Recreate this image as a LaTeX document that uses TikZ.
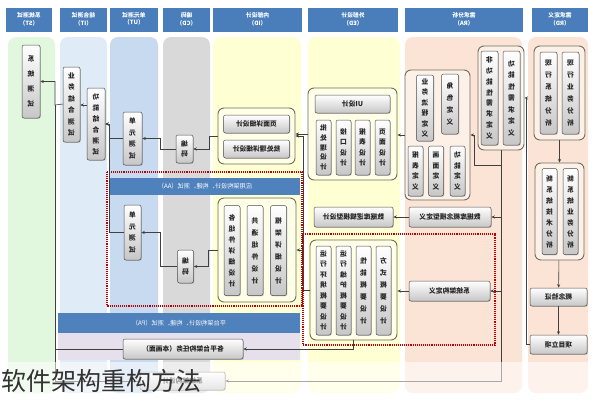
\documentclass[tikz,border=0pt]{standalone}
\usepackage{fontspec}
\setmainfont{Noto Sans CJK SC}
\usepackage{graphicx}
\usetikzlibrary{arrows.meta,shadows}
\definecolor{hdrblue}{HTML}{4A7EBB}
\definecolor{bandblue}{HTML}{4F81BD}
\definecolor{bandlav}{HTML}{E6E0EC}
\definecolor{laneST}{HTML}{E2F8DE}
\definecolor{laneIT}{HTML}{DFEBF6}
\definecolor{laneUT}{HTML}{C8DAF0}
\definecolor{laneCD}{HTML}{D9D9D9}
\definecolor{laneID}{HTML}{FFFFD4}
\definecolor{laneRA}{HTML}{FBE4D5}
\definecolor{grpline}{HTML}{6E6E5E}
\makeatletter
\newcommand\vtxt[2][10]{\reflectbox{\vbox{\baselineskip=#1pt\lineskiplimit=-20pt\@tfor\vt@c:=#2\do{\hbox to 7pt{\hss\vt@c\hss}}}}}
\makeatother
\newcommand\mtxt[1]{\reflectbox{#1}}
\newcommand\htxt[2]{\reflectbox{\begin{tabular}{@{}c@{}}#1\\#2\end{tabular}}}
\tikzset{%
  lane/.style={rounded corners=8pt},
  hdr/.style={fill=hdrblue, text=white, inner sep=0, font=\bfseries\fontsize{5.8}{6.8}\selectfont},
  band/.style={fill=bandblue, text=white, inner sep=0, font=\fontsize{6.2}{7}\selectfont},
  grp/.style={draw=grpline, line width=0.9pt, rounded corners=6pt, fill=white, fill opacity=0.45, inner sep=0},
  cell/.style={draw=black!70, line width=0.5pt, rounded corners=2pt, top color=white, bottom color=black!22,
    drop shadow={shadow xshift=0.8pt, shadow yshift=-0.8pt, opacity=0.35},
    inner sep=0, text=black!85, font=\bfseries\fontsize{6.8}{7.5}\selectfont},
  reddot/.style={draw=red!75!black, densely dotted, line width=1.1pt},
  link/.style={draw=black!75, line width=0.6pt},
  flow/.style={link, -{Stealth[length=3.5pt,width=3pt]}}
}
\begin{document}
\begin{tikzpicture}[x=1pt, y=-1pt]
  \useasboundingbox (0,0) rectangle (592,400);
  \fill[white] (0,0) rectangle (592,400);
  \fill[lane, laneST] (8,37) rectangle (55,393);
  \fill[lane, laneIT] (60,37) rectangle (107,393);
  \fill[lane, laneUT] (110,37) rectangle (158,393);
  \fill[lane, laneCD] (163,37) rectangle (210,393);
  \fill[lane, laneID] (213,37) rectangle (301,393);
  \fill[lane, laneID] (308,37) rectangle (400,393);
  \fill[lane, laneRA] (405,37) rectangle (522,393);
  \fill[lane, laneRA] (528,37) rectangle (588,393);

  \node[hdr, minimum width=46pt, minimum height=24pt] (hST) at (29,20) {\htxt{系统测试}{（ST）}};
  \node[hdr, minimum width=47pt, minimum height=24pt] (hIT) at (83.5,20) {\htxt{结合测试}{（IT）}};
  \node[hdr, minimum width=48pt, minimum height=24pt] (hUT) at (134,20) {\htxt{单元测试}{（UT）}};
  \node[hdr, minimum width=47pt, minimum height=24pt] (hCD) at (186.5,20) {\htxt{编码}{（CD）}};
  \node[hdr, minimum width=89pt, minimum height=24pt] (hID) at (257.5,20) {\htxt{内部设计}{（ID）}};
  \node[hdr, minimum width=90pt, minimum height=24pt] (hED) at (353,20) {\htxt{外部设计}{（ED）}};
  \node[hdr, minimum width=118pt, minimum height=24pt] (hRA) at (464,20) {\htxt{需求分析}{（RA）}};
  \node[hdr, minimum width=56pt, minimum height=24pt] (hRD) at (560,20) {\htxt{需求定义}{（RD）}};

  \node[band, minimum width=190pt, minimum height=17pt] (bAA) at (205,186.5) {\mtxt{应用架构设计、构建、测试（AA）}};
  \node[band, minimum width=242pt, minimum height=20pt] (bPA) at (179,323) {\mtxt{平台架构设计、构建、测试（PA）}};
  \fill[bandlav] (58,333) rectangle (300,360);
  \draw[reddot] (107,172) rectangle (302,306);
  \draw[reddot] (303,234) rectangle (495,345);

  \node[grp, minimum width=51pt, minimum height=94pt] (rdTop) at (559.5,93) {};
  \node[grp, minimum width=49pt, minimum height=97pt] (rdMid) at (559.5,211.5) {};
  \node[grp, minimum width=46pt, minimum height=104pt] (raReq) at (501,98) {};
  \node[grp, minimum width=65pt, minimum height=130pt] (raDef) at (437.5,135) {};
  \node[grp, minimum width=89pt, minimum height=92pt] (edTop) at (352.5,134) {};
  \node[grp, minimum width=87pt, minimum height=100pt] (edLow) at (353.5,290) {};
  \node[grp, minimum width=77pt, minimum height=56pt] (idTop) at (256.5,136) {};
  \node[grp, minimum width=78pt, minimum height=104pt] (idLow) at (257,250) {};

  \node[cell, minimum width=17pt, minimum height=82pt] (rdA) at (548.5,93) {\vtxt[12]{现行系统分析}};
  \node[cell, minimum width=17pt, minimum height=82pt] (rdB) at (570.5,93) {\vtxt[12]{现行业务分析}};
  \node[cell, minimum width=15pt, minimum height=86pt] (rdC) at (549.5,211.5) {\vtxt[11]{新系统技术分析}};
  \node[cell, minimum width=15pt, minimum height=86pt] (rdD) at (570.5,211.5) {\vtxt[11]{新系统业务分析}};
  \node[cell, minimum width=57pt, minimum height=18pt] (rdPoc) at (558.5,297) {\mtxt{概念验证}};
  \node[cell, minimum width=57pt, minimum height=19pt] (rdProj) at (558.5,344.5) {\mtxt{项目立项}};

  \node[cell, minimum width=17pt, minimum height=94pt] (raE) at (489.5,98) {\vtxt[10.8]{非功能性需求定义}};
  \node[cell, minimum width=17pt, minimum height=94pt] (raF) at (511.5,98) {\vtxt[11.5]{功能性需求定义}};
  \node[cell, minimum width=17pt, minimum height=66pt] (raG) at (425,108) {\vtxt[10.5]{业务流程定义}};
  \node[cell, minimum width=17pt, minimum height=60pt] (raH) at (450,104) {\vtxt[12]{角色定义}};
  \node[cell, minimum width=15pt, minimum height=50pt] (raI) at (415.5,171) {\vtxt[10.5]{报表定义}};
  \node[cell, minimum width=15pt, minimum height=50pt] (raJ) at (436,171) {\vtxt[10.5]{画面定义}};
  \node[cell, minimum width=15pt, minimum height=50pt] (raK) at (457.5,171) {\vtxt[10.5]{功能定义}};
  \node[cell, minimum width=82pt, minimum height=20pt] (dbConcept) at (450,217) {\mtxt{数据库概念模型定义}};
  \node[cell, minimum width=81pt, minimum height=20pt] (sysArch) at (449.5,291) {\mtxt{系统架构定义}};

  \node[cell, minimum width=75pt, minimum height=18pt] (edUI) at (352.5,104) {\mtxt{UI设计}};
  \node[cell, minimum width=15pt, minimum height=55pt] (edA) at (323.5,147.5) {\vtxt[9.8]{批处理设计}};
  \node[cell, minimum width=15pt, minimum height=55pt] (edB) at (343.5,147.5) {\vtxt[10.5]{接口设计}};
  \node[cell, minimum width=15pt, minimum height=55pt] (edC) at (362.5,147.5) {\vtxt[10.5]{报表设计}};
  \node[cell, minimum width=15pt, minimum height=55pt] (edD) at (382.5,147.5) {\vtxt[10.5]{页面设计}};
  \node[cell, minimum width=79pt, minimum height=20pt] (dbLogic) at (353.5,217) {\mtxt{数据库逻辑模型设计}};
  \node[cell, minimum width=15pt, minimum height=89pt] (edE) at (323.5,290.5) {\vtxt[10.5]{运行环境概要设计}};
  \node[cell, minimum width=15pt, minimum height=89pt] (edF) at (343.5,290.5) {\vtxt[10.5]{运行维护概要设计}};
  \node[cell, minimum width=15pt, minimum height=89pt] (edG) at (363.5,290.5) {\vtxt[12]{性能概要设计}};
  \node[cell, minimum width=15pt, minimum height=89pt] (edH) at (383.5,290.5) {\vtxt[12]{方式概要设计}};

  \node[cell, minimum width=66pt, minimum height=18pt] (idP1) at (256.5,124) {\mtxt{页面详细设计}};
  \node[cell, minimum width=66pt, minimum height=18pt] (idP2) at (256.5,149) {\mtxt{批处理详细设计}};
  \node[cell, minimum width=16pt, minimum height=90pt] (idA) at (232,250.5) {\vtxt[11]{各组件详细设计}};
  \node[cell, minimum width=16pt, minimum height=90pt] (idB) at (255,250.5) {\vtxt[12]{共通组件设计}};
  \node[cell, minimum width=16pt, minimum height=90pt] (idC) at (278.5,250.5) {\vtxt[12]{框架详细设计}};

  \node[cell, minimum width=17pt, minimum height=28pt] (cdUp) at (184.5,149) {\vtxt[10]{编码}};
  \node[cell, minimum width=16pt, minimum height=33pt] (cdLow) at (185.5,266.5) {\vtxt[11]{编码}};
  \node[cell, minimum width=19pt, minimum height=53pt] (utUp) at (132.5,138.5) {\vtxt[11.5]{单元测试}};
  \node[cell, minimum width=17pt, minimum height=55pt] (utLow) at (132.5,232.5) {\vtxt[11.5]{单元测试}};
  \node[cell, minimum width=18pt, minimum height=72pt] (itFunc) at (96,124) {\vtxt[11]{功能结合测试}};
  \node[cell, minimum width=17pt, minimum height=75pt] (itBiz) at (71.5,104.5) {\vtxt[11.5]{业务结合测试}};
  \node[cell, minimum width=18pt, minimum height=73pt] (stBox) at (31,81.5) {\vtxt[15]{系统测试}};

  \node[cell, minimum width=120pt, minimum height=20pt] (platTask) at (183,349) {\mtxt{各平台架构任务（本画面）}};
  \node[cell, minimum width=85pt, minimum height=18pt] (sysBox) at (182.5,381) {\mtxt{系统架构设计}};

  \coordinate (jST) at (55,105);
  \draw[flow] (rdTop) -- (rdMid);
  \draw[flow] (rdMid) -- (rdPoc);
  \draw[flow] (rdPoc) -- (rdProj);
  \draw[flow] (rdProj.west) -- ++(-3,0) |- (raReq.east);
  \draw[flow] (raReq.south) |- (474,165) |- (raDef.east);
  \draw[flow] (raReq.south) |- (dbConcept.east);
  \draw[flow] (raReq.south) |- (sysArch.east);
  \draw[flow] (raReq.south) |- (sysBox.east);
  \draw[flow] (raDef.west) -- (raDef.west -| edTop.east);
  \draw[flow] (dbConcept) -- (dbLogic);
  \draw[flow] (sysArch.west) -- (sysArch.west -| edLow.east);
  \draw[flow] (edTop.west) -- (edTop.west -| idTop.east);
  \draw[flow] (edLow.west) -- ++(-6,0) |- (idTop.east);
  \draw[flow] (edLow.west) -- ++(-6,0) |- (idLow.east);
  \draw[flow] (edLow.south) |- (platTask.east);
  \draw[flow] (idTop.west) -- ++(-8,0) |- (cdUp.east);
  \draw[flow] (idLow.west) -- ++(-9,0) |- (cdLow.east);
  \draw[flow] (cdUp.west) -- ++(-15,0) |- (utUp.east);
  \draw[flow] (cdLow.west) -- ++(-17,0) |- (utLow.east);
  \draw[flow] (utUp.west) -- ++(-13,0) |- (itFunc.east);
  \draw[flow] (utLow.west) -- ++(-14,0) |- (itFunc.east);
  \draw[flow] ([yshift=19pt]itFunc.west) -- ([yshift=19pt]itFunc.west -| itBiz.east);
  \draw[flow] ([yshift=0.5pt]itBiz.west) -- (jST) |- (stBox.east);
  \draw[link] (platTask.west) -| (jST);
  \draw[link] (sysBox.west) -| (jST);

  \fill[white, opacity=0.55] (0,362) rectangle (592,400);
  \node[anchor=west, inner sep=0, text=black!80, font=\fontsize{25}{25}\selectfont] (title) at (1,381) {软件架构重构方法};
\end{tikzpicture}
\end{document}
